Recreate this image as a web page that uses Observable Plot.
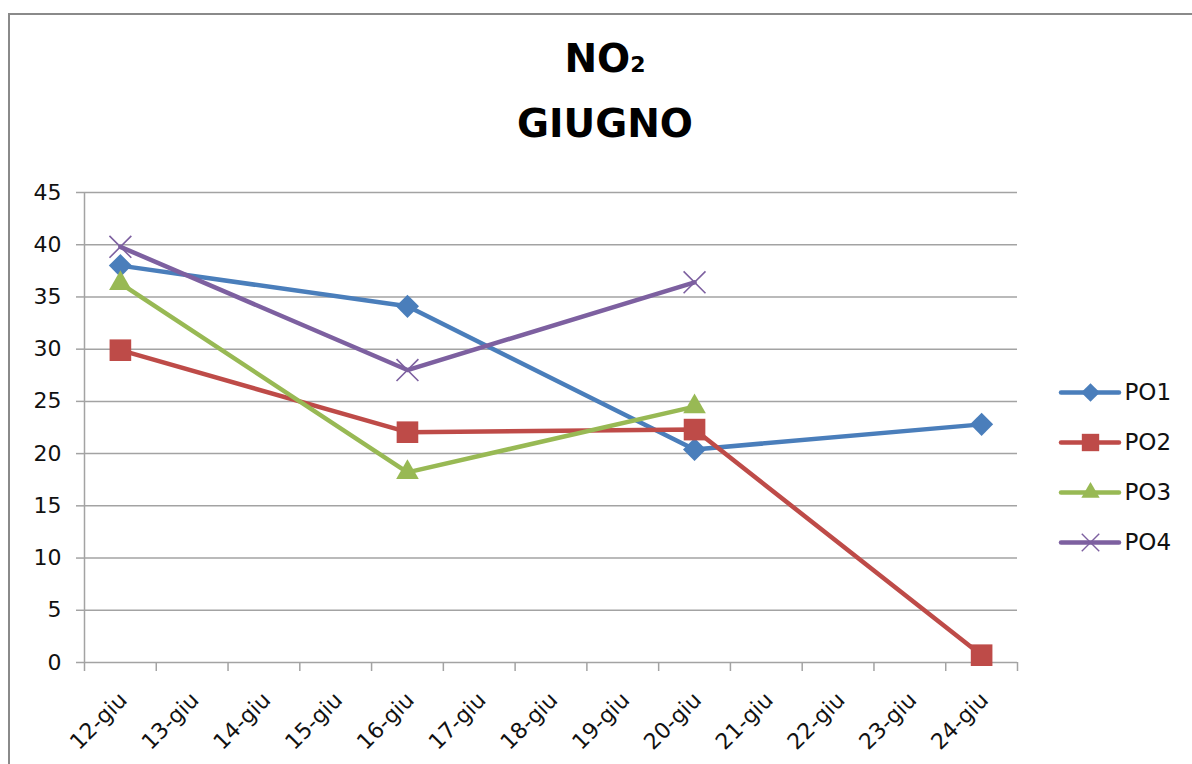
<!DOCTYPE html>
<html>
<head>
<meta charset="utf-8">
<script src="https://cdn.jsdelivr.net/npm/d3@7"></script>
<script src="https://cdn.jsdelivr.net/npm/@observablehq/plot@0.6"></script>
<style>
  html, body { margin: 0; padding: 0; background: #fff; }
  #wrap { position: relative; width: 1192px; height: 764px; overflow: hidden; font-family: "DejaVu Sans", sans-serif; }
  #frame { position: absolute; left: 8px; top: 13px; width: 1400px; height: 900px; border: 2px solid #8a8a8a; }
  .title { position: absolute; left: 0; width: 1210px; text-align: center; font-weight: bold; font-size: 39px; line-height: 39px; color: #000; }
  #chart, #legend { position: absolute; left: 0; top: 0; }
  #legend { left: 1048px; top: 360px; }
</style>
</head>
<body>
<div id="wrap">
  <div id="frame"></div>
  <div class="title" style="top:39px">NO<span style="font-size:22px">2</span></div>
  <div class="title" style="top:104px">GIUGNO</div>
  <div id="chart"></div>
  <div id="legend"></div>
</div>
<script>
// ---- data ----
const days = ["12-giu","13-giu","14-giu","15-giu","16-giu","17-giu","18-giu","19-giu","20-giu","21-giu","22-giu","23-giu","24-giu"];
const sampleDays = ["12-giu","16-giu","20-giu","24-giu"];
const series = ["PO1","PO2","PO3","PO4"];
const po1 = [38.0, 34.1, 20.4, 22.8];
const po2 = [29.9, 22.05, 22.3, 0.7];
const po3 = [36.3, 18.2, 24.5, null];
const po4 = [39.8, 28.0, 36.4, null];
const yTicks = [0, 5, 10, 15, 20, 25, 30, 35, 40, 45];
const colors = ["#4A7EBB", "#BE4B48", "#98B954", "#7D60A0"];
const symbols = ["diamond2", "square", "triangle", "times"];

const valuesBySeries = [po1, po2, po3, po4];
const rows = [];
series.forEach((s, si) => {
  sampleDays.forEach((d, di) => {
    const v = valuesBySeries[si][di];
    if (v != null) rows.push({series: s, day: d, i: days.indexOf(d), value: v});
  });
});

const color = {domain: series, range: colors};
const symbol = {domain: series, range: symbols};
const markerR = {PO1: 10.4, PO2: 12.2, PO3: 8.4, PO4: 10};

const chart = Plot.plot({
  width: 1192,
  height: 764,
  marginLeft: 84,
  marginRight: 175,
  marginTop: 192,
  marginBottom: 102,
  style: {fontFamily: "DejaVu Sans, sans-serif", fontSize: "22px", background: "transparent", overflow: "visible"},
  x: {domain: [-0.5, days.length - 0.5], axis: null},
  y: {domain: [0, 45], axis: null},
  color,
  symbol,
  marks: [
    Plot.gridY(yTicks, {stroke: "#a3a3a3", strokeOpacity: 1, strokeWidth: 1.5}),
    Plot.axisY({ticks: yTicks, tickSize: 8, tickPadding: 15, fontSize: 22, stroke: "#a3a3a3", strokeWidth: 1.5, fill: "#111", label: null}),
    Plot.ruleX([-0.5], {stroke: "#a3a3a3", strokeWidth: 1.5}),
    Plot.axisX({ticks: d3.range(days.length + 1).map(i => i - 0.5), tickSize: 9, tickFormat: () => "", stroke: "#a3a3a3", strokeWidth: 1.5, label: null}),
    Plot.axisX({ticks: d3.range(days.length), tickSize: 0, tickPadding: 34, tickRotate: -45, tickFormat: i => days[i], fontSize: 22, fill: "#111", label: null, dx: 3}),
    Plot.line(rows, {x: "i", y: "value", z: "series", stroke: "series", strokeWidth: 4.5, strokeLinejoin: "round", strokeLinecap: "round"}),
    ...series.map(s => Plot.dot(rows.filter(r => r.series === s), {
      x: "i", y: "value", symbol: "series", r: markerR[s],
      fill: s === "PO4" ? "none" : "series",
      stroke: "series", strokeWidth: s === "PO4" ? 1.6 : 0
    }))
  ]
});
document.getElementById("chart").appendChild(chart);

const legendR = {PO1: 8.4, PO2: 9.8, PO3: 6.8, PO4: 8};
const legend = Plot.plot({
  width: 144,
  height: 210,
  margin: 0,
  style: {fontFamily: "DejaVu Sans, sans-serif", fontSize: "23px", background: "transparent", overflow: "visible"},
  x: {domain: [0, 1], range: [13, 71], axis: null},
  y: {type: "point", domain: series, range: [31, 182], padding: 0, axis: null},
  color,
  symbol,
  marks: [
    Plot.ruleY(series, {y: d => d, x1: 0, x2: 1, stroke: d => d, strokeWidth: 4.5, strokeLinecap: "round"}),
    ...series.map(s => Plot.dot([s], {
      x: 0.5, y: d => d, symbol: d => d, r: legendR[s],
      fill: s === "PO4" ? "none" : d => d,
      stroke: d => d, strokeWidth: s === "PO4" ? 1.4 : 0
    })),
    Plot.text(series, {x: 1, y: d => d, text: d => d, dx: 5, textAnchor: "start", fontSize: 23, fill: "#111"})
  ]
});
document.getElementById("legend").appendChild(legend);
</script>
</body>
</html>
